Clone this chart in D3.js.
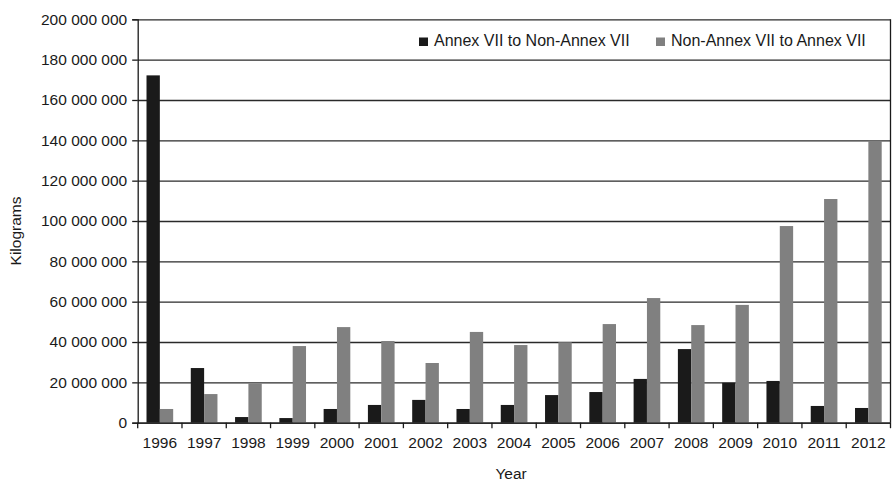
<!DOCTYPE html>
<html>
<head>
<meta charset="utf-8">
<script src="https://cdn.jsdelivr.net/npm/d3@7/dist/d3.min.js"></script>
<style>
  html, body { margin: 0; padding: 0; background: #fff; }
  svg { display: block; font-family: "Liberation Sans", Arial, Helvetica, sans-serif; }
</style>
</head>
<body>
<svg id="chart" width="893" height="483"></svg>
<script>
// Yearly transboundary waste shipments (kg)
const years = ["1996","1997","1998","1999","2000","2001","2002","2003","2004","2005","2006","2007","2008","2009","2010","2011","2012"];
const annexToNon = [172.2e6, 27.1e6, 2.8e6, 2.3e6, 6.8e6, 8.8e6, 11.3e6, 6.8e6, 8.8e6, 13.7e6, 15.2e6, 21.7e6, 36.5e6, 19.8e6, 20.7e6, 8.3e6, 7.3e6];
const nonToAnnex = [6.8e6, 14.2e6, 19.5e6, 38.0e6, 47.4e6, 40.5e6, 29.6e6, 45.0e6, 38.5e6, 39.9e6, 48.9e6, 61.8e6, 48.4e6, 58.4e6, 97.5e6, 110.9e6, 139.8e6];
const seriesNames = ["Annex VII to Non-Annex VII", "Non-Annex VII to Annex VII"];
const seriesColors = ["#1a1a1a", "#808080"];
const yTicks = [0, 20e6, 40e6, 60e6, 80e6, 100e6, 120e6, 140e6, 160e6, 180e6, 200e6];

const svg = d3.select("#chart");
const L = 137.7, R = 890.5, T = 19.3, B = 422.7;

const x = d3.scaleBand().domain(years).range([L, R]).padding(0);
const xs = d3.scaleBand().domain([0, 1]).range([0, x.bandwidth()]).paddingInner(0).paddingOuter(0.66);
const y = d3.scaleLinear().domain([0, 200e6]).range([B, T]);

const fmt = v => d3.format(",")(v).replace(/,/g, " ");

// horizontal gridlines
const grid = svg.append("g").attr("transform", `translate(${L},0)`)
  .call(d3.axisLeft(y).tickValues(yTicks).tickSize(-(R - L)).tickFormat(""));
grid.select(".domain").remove();
grid.selectAll("line").attr("stroke", "#2a2a2a").attr("stroke-width", 1.3);

// bars
const rows = years.map((yr, i) => ({ yr, vals: [annexToNon[i], nonToAnnex[i]] }));
svg.append("g").selectAll("g").data(rows).join("g")
  .attr("transform", d => `translate(${x(d.yr)},0)`)
  .selectAll("rect").data(d => d.vals.map((v, k) => ({ v, k }))).join("rect")
  .attr("x", d => xs(d.k))
  .attr("width", xs.bandwidth())
  .attr("y", d => y(d.v))
  .attr("height", d => B - y(d.v))
  .attr("fill", d => seriesColors[d.k]);

// frame: right edge
svg.append("line").attr("x1", R).attr("x2", R).attr("y1", T).attr("y2", B)
  .attr("stroke", "#1a1a1a").attr("stroke-width", 1.3);

// y axis
const ya = svg.append("g").attr("transform", `translate(${L},0)`)
  .call(d3.axisLeft(y).tickValues(yTicks).tickSize(5.5).tickPadding(5).tickFormat(fmt));
ya.select(".domain").attr("stroke", "#1a1a1a").attr("stroke-width", 1.3);
ya.selectAll("line").attr("stroke", "#1a1a1a").attr("stroke-width", 1.3);
ya.selectAll("text").attr("font-size", "15.5px").attr("fill", "#1a1a1a")
  .attr("font-family", "'Liberation Sans', Arial, sans-serif");

// x axis: labels centred in each band, ticks on band boundaries
const xa = svg.append("g").attr("transform", `translate(0,${B})`)
  .call(d3.axisBottom(x).tickSize(0).tickPadding(14));
xa.select(".domain").attr("stroke", "#1a1a1a").attr("stroke-width", 1.3);
xa.selectAll("text").attr("font-size", "15.5px").attr("fill", "#1a1a1a")
  .attr("font-family", "'Liberation Sans', Arial, sans-serif");
const bounds = years.map(d => x(d)).concat([R]);
xa.selectAll("line.bound").data(bounds).join("line").attr("class", "bound")
  .attr("x1", d => d).attr("x2", d => d).attr("y1", 0).attr("y2", 5.5)
  .attr("stroke", "#1a1a1a").attr("stroke-width", 1.3);

// axis titles
svg.append("text").attr("x", (L + R) / 2 - 3).attr("y", 479)
  .attr("text-anchor", "middle").attr("font-size", "15.5px").attr("fill", "#1a1a1a")
  .text("Year");
svg.append("text").attr("transform", `translate(21,${(T + B) / 2 + 10}) rotate(-90)`)
  .attr("text-anchor", "middle").attr("font-size", "15.5px").attr("fill", "#1a1a1a")
  .text("Kilograms");

// legend
const legendX = [419, 656];
const lg = svg.append("g");
seriesNames.forEach((name, k) => {
  lg.append("rect").attr("x", legendX[k]).attr("y", 37.5).attr("width", 9).attr("height", 8.5)
    .attr("fill", seriesColors[k]);
  lg.append("text").attr("x", legendX[k] + 15).attr("y", 46)
    .attr("font-size", "16px").attr("fill", "#1a1a1a").text(name);
});
</script>
</body>
</html>
